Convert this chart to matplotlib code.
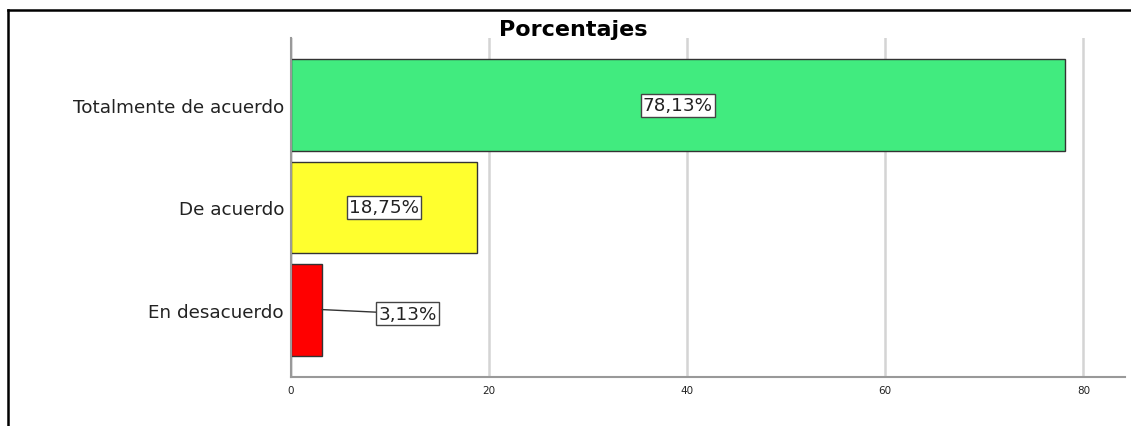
import matplotlib
matplotlib.use('Agg')
import matplotlib.pyplot as plt
from matplotlib.lines import Line2D

# datos
categorias = ['Totalmente de acuerdo', 'De acuerdo', 'En desacuerdo']
porcentajes = [78.13, 18.75, 3.13]
etiquetas = ['78,13%', '18,75%', '3,13%']
colores = ['#41EB7F', '#FFFF2E', '#FF0000']
ticks_x = [0, 20, 40, 60, 80]

plt.rcParams['font.family'] = ['DejaVu Sans']

fig = plt.figure(figsize=(11.31, 4.27), dpi=100)
ax = fig.add_axes([0.2573, 0.1148, 0.7374, 0.7939])

pos = list(range(len(categorias)))
ax.barh(pos, porcentajes, height=0.9, color=colores, edgecolor='#333333', linewidth=1, zorder=3)
ax.set_ylim(2.66, -0.66)
ax.set_xlim(0, 84.2)

ax.set_yticks(pos)
ax.set_yticklabels(categorias, fontsize=13.2, color='#222222')
ax.set_xticks(ticks_x)
ax.set_xticklabels([str(t) for t in ticks_x], fontsize=7.5, color='#222222')
ax.tick_params(axis='y', length=0, pad=5)
ax.tick_params(axis='x', length=0, pad=6)

ax.grid(axis='x', color='#d4d4d4', linewidth=1.8, zorder=0)
for s in ['top', 'right']:
    ax.spines[s].set_visible(False)
for s in ['left', 'bottom']:
    ax.spines[s].set_color('#999999')
    ax.spines[s].set_linewidth(1.5)
    ax.spines[s].set_zorder(4)

caja = dict(boxstyle='square,pad=0.12', facecolor='white', edgecolor='#444444', linewidth=1)
for i, (v, txt) in enumerate(zip(porcentajes, etiquetas)):
    if v > 10:
        ax.text(v / 2, i, txt, ha='center', va='center', fontsize=13.2,
                color='#222222', bbox=caja, zorder=5)
    else:
        ax.annotate(txt, xy=(v, i), xytext=(11.8, i + 0.04), ha='center', va='center',
                    fontsize=13.2, color='#222222', bbox=caja, zorder=5,
                    arrowprops=dict(arrowstyle='-', color='#333333', linewidth=1,
                                    shrinkA=0, shrinkB=0))

fig.text(0.507, 0.93, 'Porcentajes', ha='center', va='center', fontsize=16,
         fontweight='bold', color='black')

# marco exterior
x0 = 8 / 1131
y0 = 1 - 11 / 427
fig.add_artist(Line2D([x0, x0], [0, y0], color='black', linewidth=1.8))
fig.add_artist(Line2D([x0, 1], [y0, y0], color='black', linewidth=1.8))

fig.savefig('out.png', dpi=100)
